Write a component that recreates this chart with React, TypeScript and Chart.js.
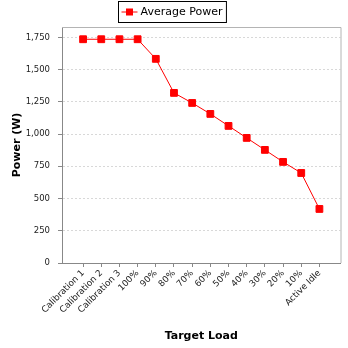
import { useEffect, useRef } from 'react';
import { Chart, registerables } from 'chart.js';

Chart.register(...registerables);

const categories = [
  'Calibration 1', 'Calibration 2', 'Calibration 3', '100%', '90%', '80%', '70%',
  '60%', '50%', '40%', '30%', '20%', '10%', 'Active Idle',
];
const averagePower = [1735, 1735, 1735, 1735, 1583, 1319, 1241, 1156, 1063, 970, 877, 784, 698, 419];
const yTicks = [0, 250, 500, 750, 1000, 1250, 1500, 1750];
const seriesLabel = 'Average Power';
const xTitle = 'Target Load';
const yTitle = 'Power (W)';

const FONT = '"DejaVu Sans", sans-serif';

export default function App() {
  const ref = useRef<HTMLCanvasElement>(null);

  useEffect(() => {
    document.body.style.margin = '0';
    const frame = {
      id: 'frame',
      beforeDatasetsDraw(chart: any) {
        const { ctx, chartArea: a } = chart;
        ctx.save();
        ctx.strokeStyle = '#b4b4b4';
        ctx.lineWidth = 1;
        ctx.beginPath();
        ctx.moveTo(a.left, a.top + 0.5);
        ctx.lineTo(a.right + 0.5, a.top + 0.5);
        ctx.lineTo(a.right + 0.5, a.bottom);
        ctx.stroke();
        ctx.restore();
      },
    };
    const boxLegend = {
      id: 'boxLegend',
      afterDraw(chart: any) {
        const ctx = chart.ctx;
        ctx.save();
        ctx.font = `11px ${FONT}`;
        const tw = ctx.measureText(seriesLabel).width;
        const w = tw + 26;
        const cx = (chart.chartArea.left + chart.chartArea.right) / 2 - 29;
        const x = Math.round(cx - w / 2) + 0.5;
        const y = 1.5;
        const h = 21;
        ctx.fillStyle = '#fff';
        ctx.fillRect(x, y, w, h);
        ctx.strokeStyle = '#000';
        ctx.lineWidth = 1;
        ctx.strokeRect(x, y, w, h);
        ctx.strokeStyle = '#ff0000';
        ctx.beginPath();
        ctx.moveTo(x + 3, y + h / 2);
        ctx.lineTo(x + 19, y + h / 2);
        ctx.stroke();
        ctx.fillStyle = '#ff0000';
        ctx.fillRect(x + 7.5, y + h / 2 - 3.5, 7, 7);
        ctx.fillStyle = '#000';
        ctx.textBaseline = 'middle';
        ctx.fillText(seriesLabel, x + 22, y + h / 2 + 0.5);
        ctx.restore();
      },
    };

    const chart = new Chart(ref.current as HTMLCanvasElement, {
      type: 'line',
      data: {
        datasets: [
          {
            label: seriesLabel,
            data: averagePower.map((v, i) => ({ x: i, y: v })),
            borderColor: '#ff0000',
            backgroundColor: '#ff0000',
            borderWidth: 1,
            pointStyle: 'rect',
            pointRadius: 4.8,
            pointBorderWidth: 1,
            pointBorderColor: '#ff0000',
            pointBackgroundColor: '#ff0000',
            tension: 0,
          },
        ],
      },
      options: {
        responsive: false,
        animation: false,
        layout: { padding: { top: 27, right: 7.5, left: 0, bottom: 0 } },
        plugins: { legend: { display: false }, tooltip: { enabled: false } },
        scales: {
          x: {
            type: 'linear',
            min: -1.16,
            max: 14.16,
            afterBuildTicks: (s: any) => {
              s.ticks = categories.map((_, i) => ({ value: i }));
            },
            afterFit: (s: any) => {
              s.height = 85;
            },
            ticks: {
              callback: (v: any) => categories[v] ?? '',
              minRotation: 45,
              maxRotation: 45,
              autoSkip: false,
              font: { family: FONT, size: 8.8 },
              color: '#222',
              padding: 1,
            },
            grid: { drawOnChartArea: false, tickLength: 4, color: '#888', tickColor: '#888' },
            border: { color: '#888' },
            title: {
              display: true,
              text: xTitle,
              color: '#000',
              font: { family: FONT, size: 11, weight: 'bold' },
              padding: { top: 0, bottom: 5 },
            },
          },
          y: {
            min: 0,
            max: 1830,
            afterBuildTicks: (s: any) => {
              s.ticks = yTicks.map((v) => ({ value: v }));
            },
            afterFit: (s: any) => {
              s.width = 62;
            },
            ticks: {
              callback: (v: any) => Number(v).toLocaleString('en-US'),
              font: { family: FONT, size: 8.5 },
              color: '#222',
              padding: 8,
            },
            grid: {
              color: '#d8d8d8',
              tickBorderDash: [],
              tickColor: '#888',
              tickLength: 4,
            },
            border: { color: '#888', dash: [2, 2] },
            title: {
              display: true,
              text: yTitle,
              color: '#000',
              font: { family: FONT, size: 11, weight: 'bold' },
              padding: { top: 11, bottom: 0 },
            },
          },
        },
      },
      plugins: [frame, boxLegend],
    } as any);
    return () => chart.destroy();
  }, []);

  return <canvas ref={ref} width={348} height={348} style={{ display: 'block' }} />;
}
